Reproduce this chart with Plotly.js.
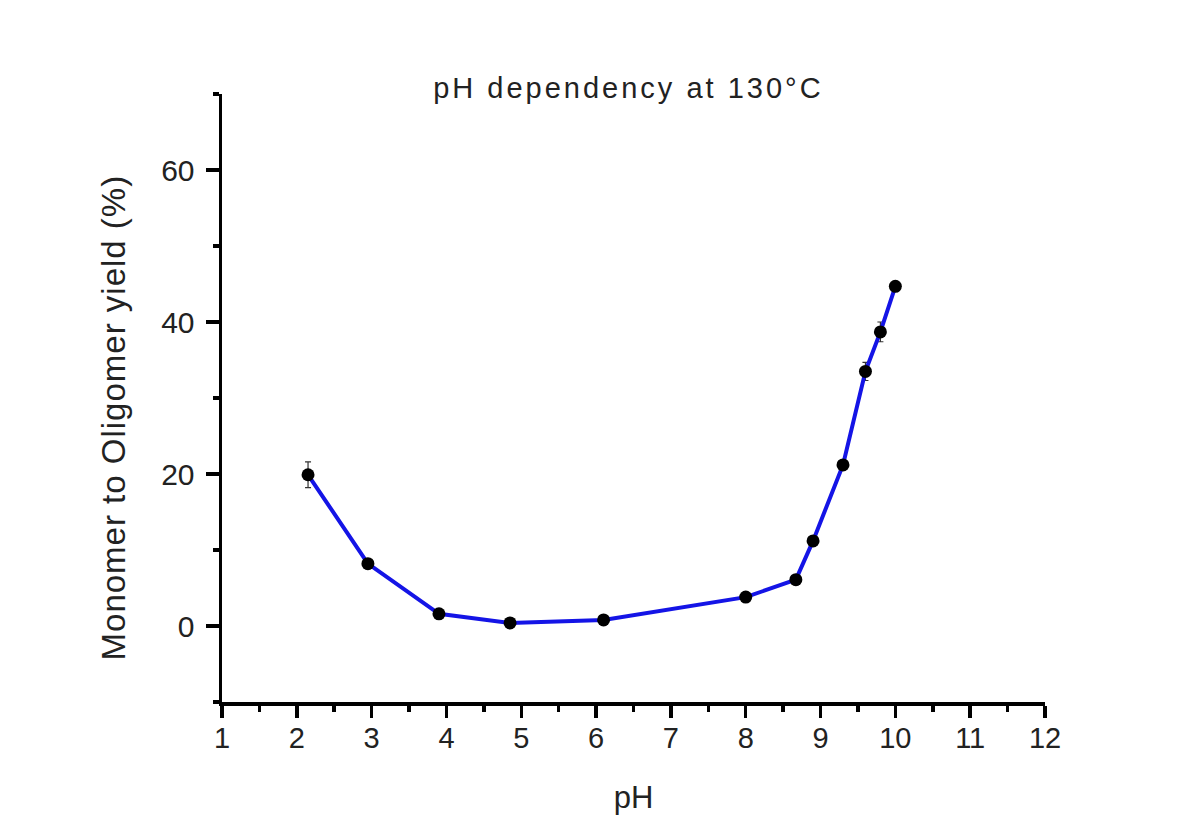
<!DOCTYPE html>
<html>
<head>
<meta charset="utf-8">
<script src="https://cdn.plot.ly/plotly-3.0.1.min.js"></script>
<style>
html,body{margin:0;padding:0;background:#fff;}
#chart{width:1197px;height:832px;}
.gtitle{letter-spacing:3px;}
.annotation-text{letter-spacing:1px;}
</style>
</head>
<body>
<div id="chart"></div>
<script>
const pH = [2.15, 2.95, 3.9, 4.85, 6.1, 8.0, 8.67, 8.9, 9.3, 9.6, 9.8, 10.0];
const yieldPct = [19.9, 8.2, 1.6, 0.4, 0.8, 3.8, 6.1, 11.2, 21.2, 33.5, 38.7, 44.7];
const yieldErr = [1.7, 0.4, 0.3, 0.3, 0.3, 0.3, 0.3, 0.4, 0.5, 1.2, 1.3, 0.4];
const xTicks = [1, 2, 3, 4, 5, 6, 7, 8, 9, 10, 11, 12];
const yTicks = [0, 20, 40, 60];
const yTitle = 'Monomer to Oligomer yield (%)';

const trace = {
  x: pH, y: yieldPct, type: 'scatter', mode: 'lines+markers',
  line: {color: '#1414e6', width: 4},
  marker: {color: '#000', size: 13},
  error_y: {type: 'data', array: yieldErr, visible: true, color: '#333', thickness: 1.2, width: 3}
};
const fam = 'Liberation Sans, Arial, sans-serif';
const txt = '#222';
const layout = {
  width: 1197, height: 832,
  paper_bgcolor: '#fff', plot_bgcolor: '#fff',
  margin: {l: 222, r: 152, t: 94, b: 130},
  showlegend: false,
  font: {family: fam, color: txt},
  title: {text: 'pH dependency at 130°C', x: 0.525, xanchor: 'center', y: 0.895, yanchor: 'middle',
          font: {family: fam, size: 29, color: txt}},
  xaxis: {
    range: [1, 12], tickvals: xTicks, ticktext: xTicks.map(String),
    showgrid: false, zeroline: false, showline: true, linecolor: '#000', linewidth: 3.5,
    ticks: 'outside', ticklen: 12, tickwidth: 3.5, tickcolor: '#000',
    minor: {dtick: 0.5, tick0: 1, ticks: 'outside', ticklen: 6, tickwidth: 3.5, tickcolor: '#000'},
    tickfont: {family: fam, size: 29, color: txt}, ticklabelstandoff: -4,
    title: {text: 'pH', font: {family: fam, size: 31, color: txt}, standoff: 34}
  },
  yaxis: {
    range: [-10, 70], tickvals: yTicks, ticktext: yTicks.map(String),
    showgrid: false, zeroline: false, showline: true, linecolor: '#000', linewidth: 3.5,
    ticks: 'outside', ticklen: 13, tickwidth: 3.5, tickcolor: '#000',
    minor: {dtick: 10, tick0: 0, ticks: 'outside', ticklen: 6, tickwidth: 3.5, tickcolor: '#000'},
    tickfont: {family: fam, size: 30, color: txt}, ticklabelstandoff: 5
  },
  annotations: [{
    text: yTitle, textangle: -90, showarrow: false,
    xref: 'paper', yref: 'paper', x: 0, y: 0.468, xanchor: 'center', yanchor: 'middle',
    xshift: -109, font: {family: fam, size: 33, color: txt}
  }]
};
Plotly.newPlot('chart', [trace], layout, {displayModeBar: false, staticPlot: true});
</script>
</body>
</html>
